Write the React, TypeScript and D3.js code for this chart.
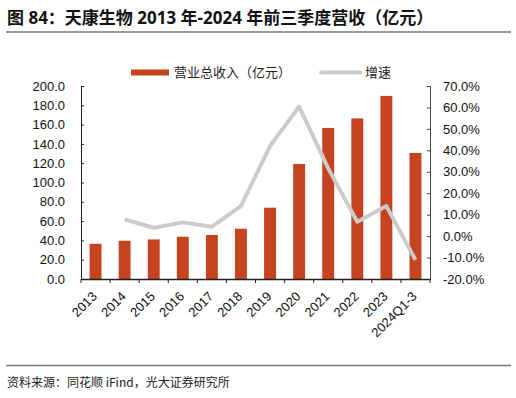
import React, { useEffect, useRef } from 'react';
import * as d3 from 'd3';

// 天康生物 营收 + 增速
const years = ['2013', '2014', '2015', '2016', '2017', '2018', '2019', '2020', '2021', '2022', '2023', '2024Q1-3'];
const revenue = [36.5, 39.6, 41.0, 43.8, 45.6, 52.1, 73.9, 119.2, 156.5, 166.4, 189.7, 130.6];
const growth = [null, 7.8, 3.9, 6.4, 4.4, 14.0, 42.0, 60.4, 31.6, 6.7, 14.0, -11.1];
const leftTicks = [0, 20, 40, 60, 80, 100, 120, 140, 160, 180, 200];
const rightTicks = [-20, -10, 0, 10, 20, 30, 40, 50, 60, 70];

const BAR = '#C5431F';
const LINE = '#CBCBCB';
const FONT = '"Liberation Sans", Arial, "Noto Sans CJK SC", sans-serif';
const CJK = '"Noto Sans CJK SC", sans-serif';
const TITLE = '"Noto Sans", "Noto Sans CJK SC", sans-serif';

const App: React.FC = () => {
  const ref = useRef<SVGSVGElement | null>(null);

  useEffect(() => {
    const W = 516, H = 398;
    const svg = d3.select(ref.current);
    svg.selectAll('*').remove();

    const left = 81, right = 430, top = 86, bottom = 279;

    // title + rules
    svg.append('text').attr('x', 7).attr('y', 24).attr('font-family', TITLE).attr('font-weight', 'bold')
      .attr('font-size', 17).attr('fill', '#111').text('图 84：天康生物 2013 年-2024 年前三季度营收（亿元）');
    svg.append('line').attr('x1', 6).attr('x2', 511).attr('y1', 32).attr('y2', 32).attr('stroke', '#777').attr('stroke-width', 1.5);
    svg.append('line').attr('x1', 6).attr('x2', 511).attr('y1', 365.5).attr('y2', 365.5).attr('stroke', '#777').attr('stroke-width', 1.5);
    svg.append('text').attr('x', 7).attr('y', 387).attr('font-family', CJK).attr('font-size', 12)
      .attr('fill', '#222').text('资料来源：同花顺 iFind，光大证券研究所');

    const x = d3.scaleBand().domain(years).range([left, right]).paddingInner(0.59).paddingOuter(0.295);
    const xb = d3.scaleBand().domain(years).range([left, right]);
    const yL = d3.scaleLinear().domain([0, 200]).range([bottom, top]);
    const yR = d3.scaleLinear().domain([-20, 70]).range([bottom, top]);

    // bars
    svg.append('g').selectAll('rect').data(revenue).enter().append('rect')
      .attr('x', (d, i) => x(years[i])!)
      .attr('width', x.bandwidth())
      .attr('y', (d) => yL(d))
      .attr('height', (d) => yL(0) - yL(d))
      .attr('fill', BAR);

    // growth line
    const pts = growth.map((g, i) => ({ g, i })).filter((p) => p.g !== null) as { g: number; i: number }[];
    const line = d3.line<{ g: number; i: number }>()
      .x((p) => xb(years[p.i])! + xb.bandwidth() / 2)
      .y((p) => yR(p.g));
    svg.append('path').datum(pts).attr('d', line).attr('fill', 'none').attr('stroke', LINE)
      .attr('stroke-width', 4).attr('stroke-linejoin', 'round');

    // left axis
    const gl = svg.append('g').attr('transform', `translate(${left},0)`)
      .call(d3.axisLeft(yL).tickValues(leftTicks).tickSizeInner(-3).tickSizeOuter(0).tickPadding(16).tickFormat((d) => (d as number).toFixed(1)));
    gl.select('.domain').attr('stroke', '#222');
    gl.selectAll('.tick line').attr('stroke', '#222');
    gl.selectAll('text').attr('font-family', FONT).attr('font-size', 13).attr('fill', '#111');

    // right axis
    const gr = svg.append('g').attr('transform', `translate(${right},0)`)
      .call(d3.axisRight(yR).tickValues(rightTicks).tickSizeInner(-3).tickSizeOuter(0).tickPadding(13).tickFormat((d) => (d as number).toFixed(1) + '%'));
    gr.select('.domain').attr('stroke', '#444');
    gr.selectAll('.tick line').attr('stroke', '#444');
    gr.selectAll('text').attr('font-family', FONT).attr('font-size', 13).attr('fill', '#111');

    // bottom axis
    const gb = svg.append('g').attr('transform', `translate(0,${bottom})`)
      .call(d3.axisBottom(xb).tickSize(0).tickPadding(6));
    gb.select('.domain').attr('stroke', '#222').attr('stroke-width', 1.5);
    gb.selectAll('.tick text').attr('font-family', FONT).attr('font-size', 13).attr('fill', '#111')
      .attr('text-anchor', 'end').attr('x', 0).attr('y', 0).attr('dy', '0.35em')
      .attr('transform', 'translate(-1,15) rotate(-45)');
    gb.append('g').selectAll('line').data(years.concat(['end'])).enter().append('line')
      .attr('x1', (d, i) => left + i * xb.step()).attr('x2', (d, i) => left + i * xb.step())
      .attr('y1', 0).attr('y2', 4).attr('stroke', '#222');

    // legend
    const lg = svg.append('g');
    lg.append('rect').attr('x', 131).attr('y', 69.5).attr('width', 38).attr('height', 6).attr('fill', BAR);
    lg.append('text').attr('x', 174).attr('y', 77).attr('font-family', CJK).attr('font-size', 13).attr('fill', '#222').text('营业总收入（亿元）');
    lg.append('line').attr('x1', 321).attr('x2', 360).attr('y1', 72.5).attr('y2', 72.5).attr('stroke', LINE).attr('stroke-width', 4).attr('stroke-linecap', 'round');
    lg.append('text').attr('x', 365).attr('y', 77).attr('font-family', CJK).attr('font-size', 13).attr('fill', '#222').text('增速');

    svg.attr('width', W).attr('height', H);
  }, []);

  return (
    <div style={{ position: 'absolute', left: 0, top: 0, background: '#fff' }}>
      <svg ref={ref} width={516} height={398} />
    </div>
  );
};

export default App;
